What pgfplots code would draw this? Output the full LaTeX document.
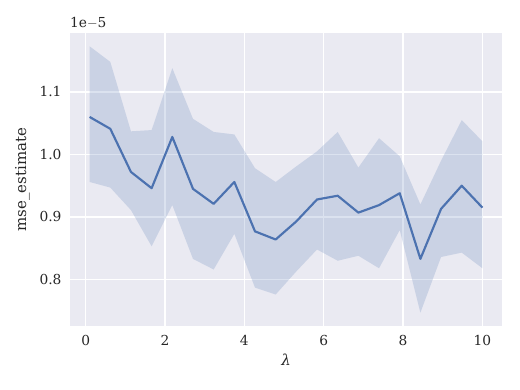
\documentclass[border=0pt]{standalone}
\usepackage{fontspec}
\setmainfont{DejaVu Serif}
\usepackage{pgfplots}
\pgfplotsset{compat=1.18}
\usepgfplotslibrary{fillbetween}
\usepackage{pgfplotstable}

\definecolor{sbbg}{HTML}{EAEAF2}
\definecolor{sbblue}{HTML}{4C72B0}

% lambda, mean, upper/lower band (units of 1e-5)
\pgfplotstableread{
x       m      hi     lo
0.1000  1.060  1.173  0.956
0.6211  1.041  1.148  0.947
1.1421  0.972  1.037  0.911
1.6632  0.946  1.039  0.853
2.1842  1.028  1.138  0.919
2.7053  0.945  1.057  0.833
3.2263  0.921  1.036  0.816
3.7474  0.956  1.032  0.873
4.2684  0.877  0.978  0.787
4.7895  0.864  0.956  0.776
5.3105  0.893  0.981  0.813
5.8316  0.928  1.005  0.848
6.3526  0.934  1.036  0.830
6.8737  0.907  0.979  0.838
7.3947  0.919  1.026  0.818
7.9158  0.938  0.997  0.879
8.4368  0.833  0.920  0.747
8.9579  0.913  0.990  0.836
9.4789  0.950  1.055  0.843
10.0000 0.915  1.021  0.818
}\msedata

\begin{document}
\begin{tikzpicture}
\begin{axis}[
    at={(0,0)}, anchor=south west,
    scale only axis,
    width=382.8pt, height=259.6pt,
    xmin=-0.395, xmax=10.495,
    ymin=0.7257, ymax=1.1943,
    xtick={0,2,4,6,8,10},
    ytick={0.8,0.9,1.0,1.1},
    yticklabel style={/pgf/number format/fixed, /pgf/number format/fixed zerofill,
        /pgf/number format/precision=1, xshift=-4pt},
    /pgf/number format/assume math mode=true,
    tick label style={font=\fontsize{12.2}{14}\selectfont, text=black!85},
    label style={font=\fontsize{13.3}{15}\selectfont, text=black!85},
    xlabel={\itshape λ},
    ylabel={mse{\char`\_}estimate},
    ylabel style={yshift=2pt},
    major tick length=0pt,
    xtick pos=bottom, ytick pos=left,
    axis line style={draw=none},
    axis background/.style={fill=sbbg},
    grid=major,
    grid style={white, line width=1.1pt},
    xticklabel style={yshift=-5pt},
    clip=false,
]
\addplot[name path=hi, draw=none, forget plot] table[x=x, y=hi] {\msedata};
\addplot[name path=lo, draw=none, forget plot] table[x=x, y=lo] {\msedata};
\addplot[sbblue, fill opacity=0.2, draw=none] fill between[of=hi and lo];
\addplot[sbblue, line width=1.9pt, line join=round, mark=none] table[x=x, y=m] {\msedata};
\node[anchor=south west, font=\fontsize{12.2}{14}\selectfont, text=black!85, inner sep=0pt]
    at (rel axis cs:0,1) [yshift=4pt] {1e$-$5};
\end{axis}
\useasboundingbox (-62pt,-56.7pt) rectangle (398.7pt,288.8pt);
\end{tikzpicture}
\end{document}
